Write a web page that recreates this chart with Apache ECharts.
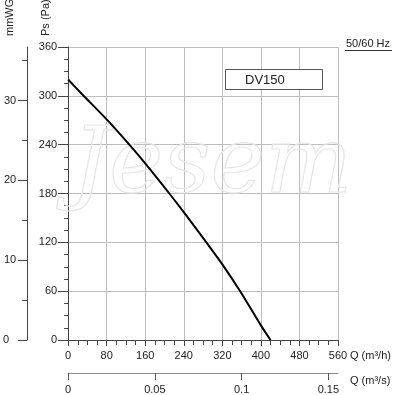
<!DOCTYPE html>
<html><head><meta charset="utf-8">
<script src="https://cdn.jsdelivr.net/npm/echarts@6/dist/echarts.min.js"></script>
<style>html,body{margin:0;padding:0;background:#fff}#c{width:400px;height:395px}</style>
</head><body><div id="c"></div>
<script>
// ---- data ----
const flowM3h    = [0, 29, 80, 127, 160, 210, 240, 288, 320, 358, 400, 420];
const pressurePa = [320, 302, 271, 240, 217, 180, 157, 119, 93, 59, 18, 0];
const mmwgMajorTicks = [0, 10, 20, 30];
const mmwgMinorTicks = [5, 15, 25, 35];
const flowM3sTicks = [0, 0.05, 0.1, 0.15];
const modelName = 'DV150';
const freqLabel = '50/60 Hz';
const watermark = 'Jesem';

// ---- chart ----
const PA_PER_MMWG = 9.80665;
const Q_MAX = 560, P_MAX = 360;
const FONT = '"Liberation Sans", Arial, sans-serif';
const chart = echarts.init(document.getElementById('c'), null, {renderer: 'canvas'});

const axisCol = '#444';
const gridCol = '#bdbdbd';
const lbl = {color: '#222', fontSize: 11, fontFamily: FONT};

chart.setOption({
  animation: false,
  backgroundColor: '#fff',
  grid: {left: 65, right: 62, top: 47, bottom: 55, containLabel: false},
  xAxis: [
    {
      type: 'value', min: 0, max: Q_MAX, interval: 80, position: 'bottom',
      axisLine: {show: true, onZero: false, lineStyle: {color: axisCol, width: 1}},
      axisTick: {show: true, inside: false, length: 6, lineStyle: {color: axisCol}},
      minorTick: {show: true, splitNumber: 4, length: 5, lineStyle: {color: axisCol}},
      axisLabel: Object.assign({margin: 10}, lbl),
      splitLine: {show: true, lineStyle: {color: gridCol, width: 1}}
    },
    {
      type: 'value', min: 0, max: Q_MAX / 3600, position: 'bottom', offset: 33,
      axisLine: {show: true, onZero: false, lineStyle: {color: '#8a8a8a', width: 1}},
      axisTick: {show: true, inside: false, length: 7, customValues: flowM3sTicks, lineStyle: {color: '#555'}},
      axisLabel: Object.assign({margin: 11, customValues: flowM3sTicks}, lbl),
      splitLine: {show: false}
    }
  ],
  yAxis: [
    {
      type: 'value', min: 0, max: P_MAX, interval: 60, position: 'left',
      axisLine: {show: true, onZero: false, lineStyle: {color: axisCol, width: 1}},
      axisTick: {show: true, inside: false, length: 10, lineStyle: {color: axisCol}},
      minorTick: {show: true, splitNumber: 4, length: 4, lineStyle: {color: axisCol}},
      axisLabel: Object.assign({margin: 11}, lbl),
      splitLine: {show: true, lineStyle: {color: gridCol, width: 1}}
    },
    {
      type: 'value', min: 0, max: P_MAX / PA_PER_MMWG, position: 'left', offset: 41,
      axisLine: {show: true, onZero: false, lineStyle: {color: axisCol, width: 1}},
      axisTick: {show: true, inside: false, length: 9, customValues: mmwgMajorTicks, lineStyle: {color: axisCol}},
      axisLabel: Object.assign({
        margin: 11, customValues: mmwgMajorTicks,
        formatter: v => v === 0 ? '{z|0}' : String(v),
        rich: {z: {fontSize: 11, fontFamily: FONT, color: '#222', padding: [0, 7, 0, 0]}}
      }, lbl),
      splitLine: {show: false}
    },
    {
      type: 'value', min: 0, max: P_MAX / PA_PER_MMWG, position: 'left', offset: 41,
      axisLine: {show: false, onZero: false},
      axisTick: {show: true, inside: false, length: 5, customValues: mmwgMinorTicks, lineStyle: {color: axisCol}},
      axisLabel: {show: false},
      splitLine: {show: false}
    }
  ],
  series: [{
    type: 'line',
    xAxisIndex: 0, yAxisIndex: 0,
    data: flowM3h.map((q, i) => [q, pressurePa[i]]),
    showSymbol: false, symbol: 'none',
    smooth: 0.3,
    lineStyle: {color: '#000', width: 2},
    z: 5
  }],
  graphic: [
    {type: 'text', x: 72, y: 168, z: 1, silent: true,
     style: {text: watermark, fill: 'rgba(0,0,0,0)', stroke: '#e6e6e6', lineWidth: 1.2,
             font: 'italic 92px "DejaVu Serif", serif', textAlign: 'left', textVerticalAlign: 'middle'}},
    {type: 'text', x: 9.5, y: 36, rotation: Math.PI / 2,
     style: {text: 'mmWG', fill: '#222', font: '11px ' + FONT, textAlign: 'left', textVerticalAlign: 'middle'}},
    {type: 'text', x: 45.5, y: 36, rotation: Math.PI / 2,
     style: {text: 'Ps (Pa)', fill: '#222', font: '11px ' + FONT, textAlign: 'left', textVerticalAlign: 'middle'}},
    {type: 'text', x: 346, y: 43.5,
     style: {text: freqLabel, fill: '#222', font: '11px ' + FONT, textAlign: 'left', textVerticalAlign: 'middle'}},
    {type: 'line', shape: {x1: 345, y1: 50.5, x2: 392, y2: 50.5}, style: {stroke: '#333', lineWidth: 1}},
    {type: 'rect', shape: {x: 225.5, y: 69.5, width: 97, height: 20}, z: 10,
     style: {fill: '#fff', stroke: '#555', lineWidth: 1}},
    {type: 'text', x: 245, y: 80, z: 11,
     style: {text: modelName, fill: '#222', font: '13px ' + FONT, textAlign: 'left', textVerticalAlign: 'middle'}},
    {type: 'text', x: 350, y: 356,
     style: {text: 'Q (m³/h)', fill: '#222', font: '11px ' + FONT, textAlign: 'left', textVerticalAlign: 'middle'}},
    {type: 'text', x: 350, y: 381,
     style: {text: 'Q (m³/s)', fill: '#222', font: '11px ' + FONT, textAlign: 'left', textVerticalAlign: 'middle'}}
  ]
});
</script>
</body></html>
